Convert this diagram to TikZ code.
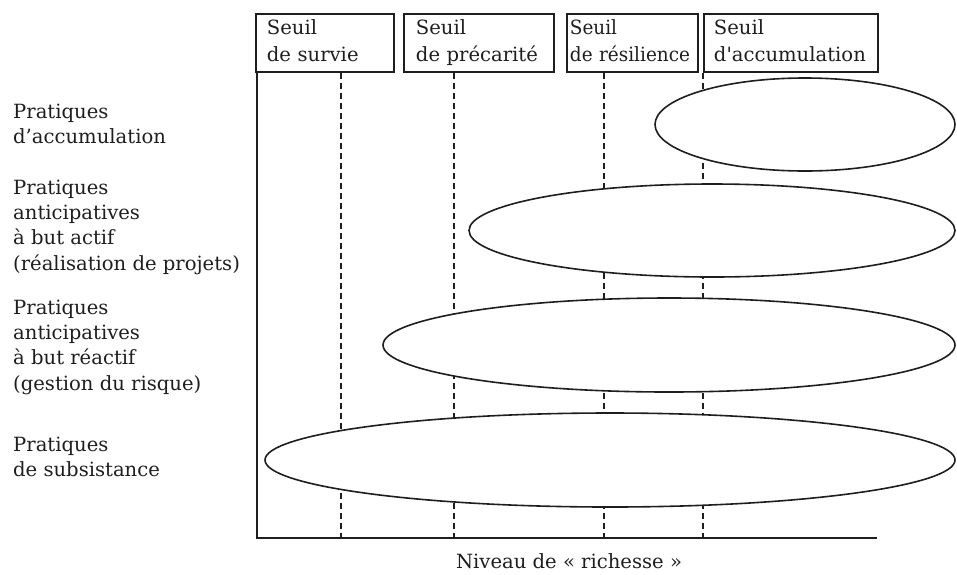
\documentclass[tikz,border=0pt]{standalone}
\usepackage{fontspec}
\setmainfont{DejaVu Serif}
\newfontfamily\narrowserif[FakeStretch=0.94]{DejaVu Serif}
\usetikzlibrary{shapes.geometric}
\definecolor{ink}{RGB}{30,30,30}
\tikzset{
  lbl/.style={anchor=base west, inner sep=0pt, align=left, text=ink,
    font=\fontsize{19.6}{25.3}\selectfont},
  thbox/.style={draw=ink, line width=1.9pt, anchor=north west, align=left,
    inner ysep=0pt, minimum height=58pt, text=ink,
    font=\fontsize{19.6}{27}\selectfont},
  oval/.style={ellipse, draw=ink, line width=1.6pt, fill=white, inner sep=0pt},
  axisline/.style={draw=ink, line width=1.6pt},
  guide/.style={draw=ink, line width=1.2pt, dash pattern=on 6pt off 4pt},
}
\begin{document}
\begin{tikzpicture}[x=1pt,y=-1pt]
\useasboundingbox (0,0) rectangle (957,574);

% threshold boxes
\node[thbox, text width=116pt, inner xsep=11pt] (s1) at (255,13) {\strut Seuil\\\strut de survie};
\node[thbox, text width=126pt, inner xsep=12pt] (s2) at (403,13) {\strut Seuil\\\strut de précarité};
\node[thbox, text width=125pt, inner xsep=3pt] (s3) at (566,13) {\narrowserif\strut Seuil\\\strut de résilience};
\node[thbox, text width=154pt, inner xsep=10pt] (s4) at (703,13) {\strut Seuil\\\strut d\textquotesingle accumulation};

% axes
\coordinate (o) at (257,538);
\coordinate (xend) at (877,538);
\draw[axisline] (o |- s1.south) -- (o) -- (xend);

% dashed threshold guides
\coordinate (t1) at (341,538);
\coordinate (t2) at (454,538);
\coordinate (t3) at (604,538);
\coordinate (t4) at (703,538);
\draw[guide] (t1 |- s1.south) -- (t1);
\draw[guide] (t2 |- s2.south) -- (t2);
\draw[guide] (t3 |- s3.south) -- (t3);
\draw[guide] (t4 |- s4.south) -- (t4);

% practice ranges
\node[oval, minimum width=300pt, minimum height=93pt] (e1) at (805,124.5) {};
\node[oval, minimum width=486pt, minimum height=93pt] (e2) at (712,230.5) {};
\node[oval, minimum width=572pt, minimum height=94pt] (e3) at (669,345) {};
\node[oval, minimum width=690pt, minimum height=94pt] (e4) at (610,460) {};

% left labels (anchored at the baseline of their last line)
\node[lbl] (l1) at (13,143.3) {Pratiques\\d’accumulation};
\node[lbl] (l2) at (13,270) {Pratiques\\anticipatives\\à but actif\\(réalisation de projets)};
\node[lbl] (l3) at (13,390) {Pratiques\\anticipatives\\à but réactif\\(gestion du risque)};
\node[lbl] (l4) at (13,476.7) {Pratiques\\de subsistance};

% axis label
\node[anchor=base, inner sep=0pt, text=ink, font=\fontsize{19.6}{25}\selectfont] (xl) at (569,568) {Niveau de « richesse »};
\end{tikzpicture}
\end{document}
